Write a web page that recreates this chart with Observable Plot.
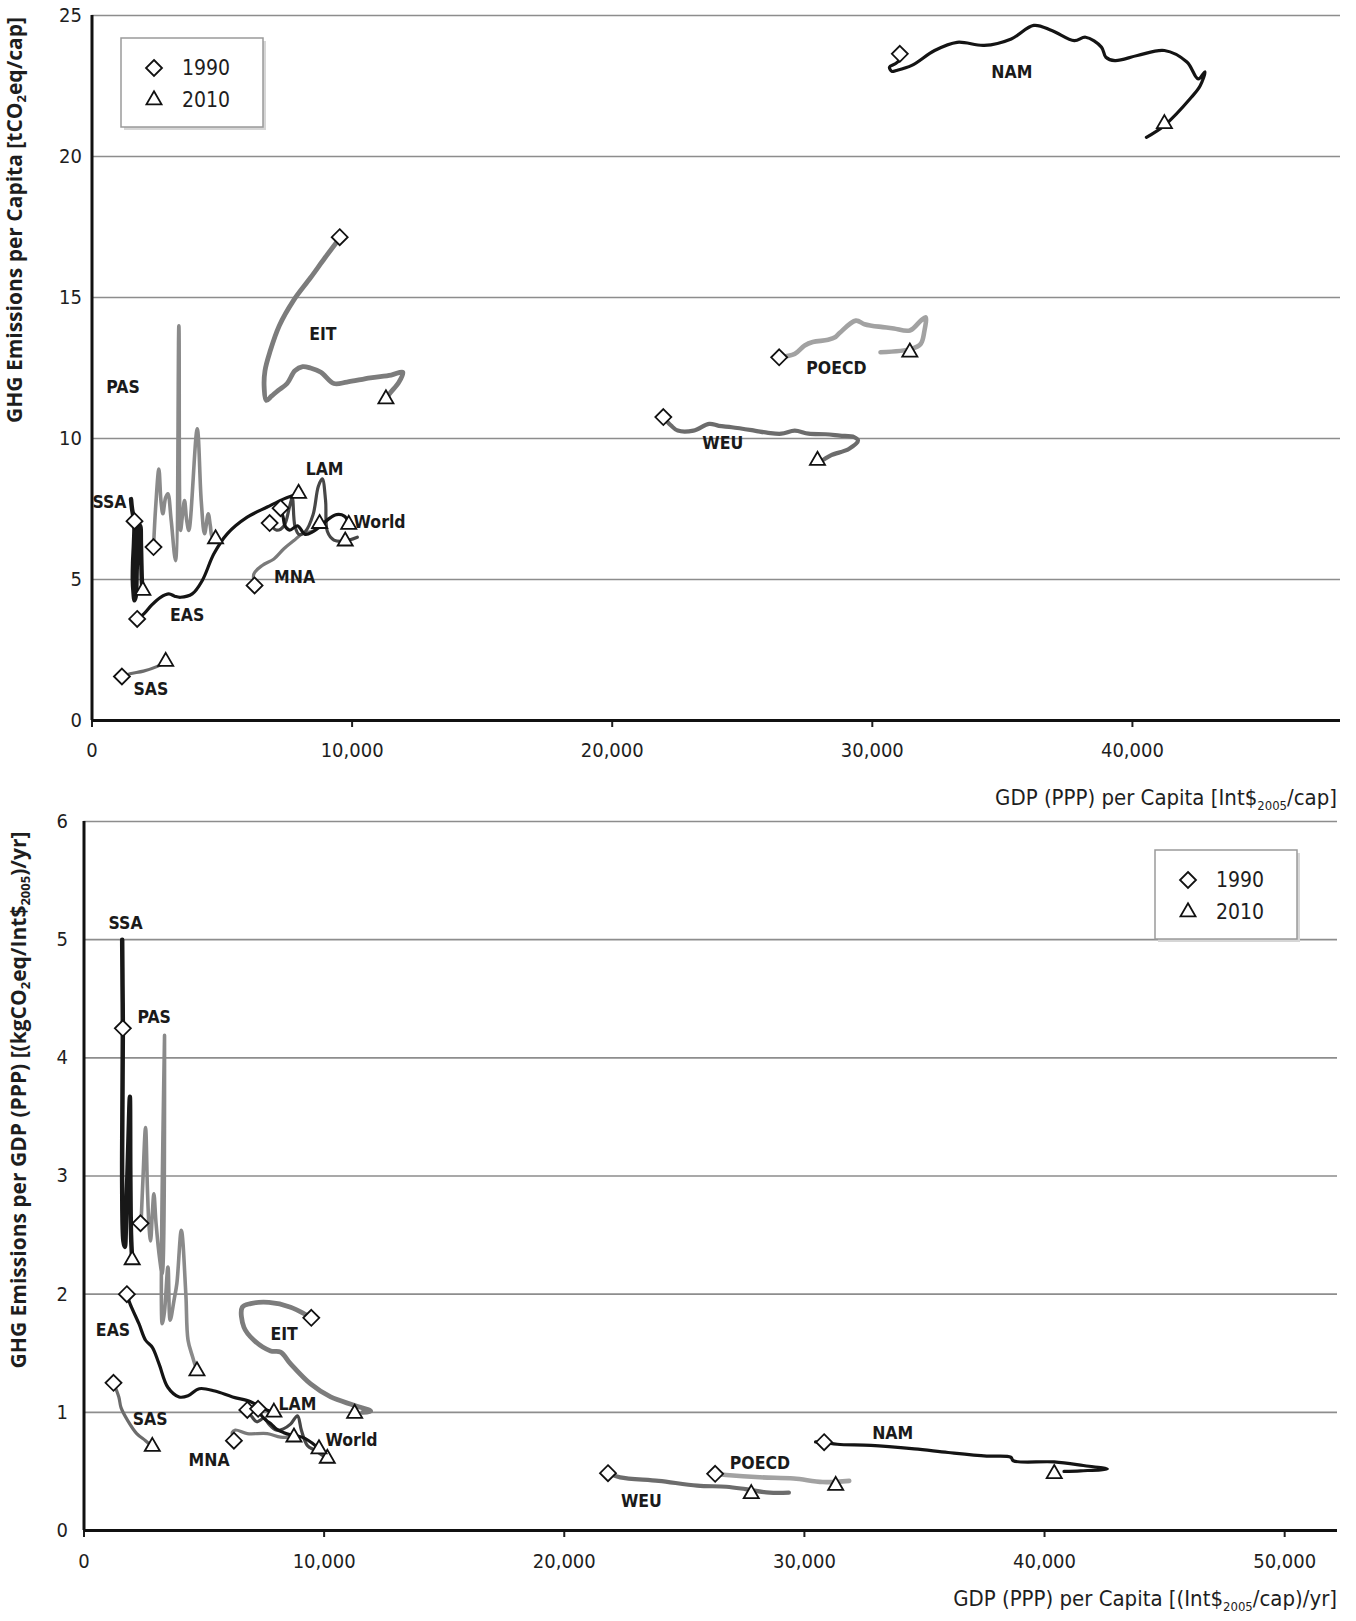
<!DOCTYPE html>
<html><head><meta charset="utf-8">
<script src="https://cdn.jsdelivr.net/npm/d3@7"></script>
<script src="https://cdn.jsdelivr.net/npm/@observablehq/plot@0.6"></script>
<style>
html,body{margin:0;padding:0;background:#fff;}
#chart{width:1356px;}
#chart svg{display:block;}
</style></head><body><div id="chart"></div>
<script>
// ---------- DATA: top panel, GHG emissions per capita [tCO2eq/cap] vs GDP per capita ----------
const NAM_pc = [[31150,23.5],[30900,23.3],[30660,23.17],[30750,23.02],[30923,23.05],[31519,23.23],[32396,23.76],[33262,24.05],[34300,23.94],[35342,24.17],[36208,24.65],[36900,24.47],[37765,24.11],[38200,24.23],[38808,23.88],[38980,23.52],[39327,23.4],[40192,23.58],[41230,23.76],[42096,23.35],[42530,22.75],[42788,23.0],[42600,22.5],[42267,22.1],[41230,21.1],[40538,20.68]];
const EIT_pc = [[9523,17.1],[8950,16.4],[8400,15.7],[7750,14.9],[7200,14.0],[6850,13.1],[6650,12.4],[6620,11.8],[6700,11.35],[6900,11.5],[7150,11.7],[7500,11.95],[7800,12.4],[8100,12.55],[8400,12.5],[8800,12.35],[9300,11.95],[9800,12.0],[10700,12.15],[11500,12.25],[11950,12.35],[11800,12.0],[11450,11.6],[11300,11.4]];
const POECD_pc = [[26419,12.88],[27019,13.0],[27400,13.3],[27712,13.42],[28300,13.5],[28585,13.6],[28750,13.75],[29365,14.18],[29700,14.05],[29969,14.0],[30400,13.95],[30827,13.9],[31442,13.83],[31865,14.18],[32050,14.3],[32000,13.8],[31865,13.36],[31519,13.18],[30315,13.06]];
const WEU_pc = [[21965,10.76],[22262,10.46],[22519,10.28],[23127,10.28],[23734,10.52],[24100,10.45],[24596,10.4],[25465,10.28],[26000,10.2],[26504,10.17],[27019,10.28],[27546,10.17],[28200,10.15],[28750,10.1],[29300,10.05],[29450,9.93],[29096,9.63],[28404,9.4],[27981,9.16]];
const SSA_pc = [[1500,7.85],[1540,7.5],[1600,7.2],[1630,7.05],[1615,6.3],[1580,5.6],[1570,5.0],[1600,4.5],[1630,4.26],[1680,4.4],[1720,5.4],[1760,6.3],[1800,6.85],[1850,6.9],[1880,6.3],[1900,5.5],[1920,4.9],[1950,4.6]];
const PAS_pc = [[2378,6.4],[2450,7.6],[2570,8.92],[2650,7.8],[2725,7.33],[2830,7.9],[2917,8.04],[3045,7.09],[3212,5.67],[3340,14.0],[3404,6.74],[3480,7.3],[3558,7.8],[3640,7.1],[3724,6.74],[4045,10.34],[4199,7.8],[4327,6.62],[4468,7.33],[4550,6.9],[4622,6.5],[4750,6.44]];
const EAS_pc = [[1737,3.6],[1994,3.78],[2300,4.1],[2635,4.37],[2955,4.49],[3200,4.4],[3404,4.37],[3853,4.49],[4237,4.96],[4686,5.91],[5199,6.62],[5968,7.21],[6737,7.57],[7378,7.86],[7955,8.06]];
const LAM_pc = [[6830,7.0],[7100,6.75],[7378,6.9],[7600,7.6],[7700,7.9],[7800,6.9],[7955,6.6],[8200,6.7],[8500,7.3],[8700,8.3],[8853,8.57],[8980,7.8],[9050,6.7],[9300,6.4],[9686,6.36],[10200,6.5]];
const World_pc = [[7250,7.53],[7350,7.2],[7420,6.9],[7600,6.75],[7900,6.9],[8200,6.6],[8500,6.7],[8800,6.9],[9100,7.15],[9400,7.3],[9700,7.25],[9878,7.0]];
const MNA_pc = [[6250,4.79],[6224,5.2],[6545,5.5],[6994,5.73],[7378,6.09],[7763,6.38],[8083,6.62],[8532,6.74],[8724,7.0]];
const SAS_pc = [[1150,1.56],[1461,1.66],[1977,1.75],[2490,1.91],[2866,2.09]];

// 1990 (diamond) and 2010 (triangle) markers, top panel
const regions1990_pc = ["NAM","EIT","POECD","WEU","SSA","PAS","EAS","LAM","World","MNA","SAS"];
const gdp1990_pc = [31058,9523,26419,21965,1634,2365,1737,6830,7250,6250,1150];
const val1990_pc = [23.64,17.14,12.88,10.76,7.07,6.15,3.6,7.0,7.53,4.79,1.56];
const gdp2010_pc = [41230,11300,31442,27892,1955,4750,7942,9735,9870,8750,2834];
const val2010_pc = [21.16,11.4,13.06,9.22,4.61,6.44,8.05,6.36,6.95,6.98,2.09];

// region label anchor points, top panel
const labelText_pc = ["NAM","EIT","POECD","WEU","SSA","PAS","EAS","LAM","World","MNA","SAS"];
const labelGdp_pc = [35365,8877,28619,24250,673,1192,3660,8942,11058,7788,2266];
const labelVal_pc = [22.99,13.69,12.5,9.83,7.73,11.8,3.72,8.9,7.03,5.08,1.12];

// ---------- DATA: bottom panel, GHG emissions per GDP [(kgCO2eq/Int$2005)/yr] ----------
const NAM_pg = [[30463,0.75],[30821,0.747],[31367,0.73],[32771,0.72],[34579,0.69],[35988,0.66],[37592,0.63],[38596,0.62],[38700,0.59],[40404,0.58],[41613,0.55],[42617,0.52],[41500,0.505],[40810,0.50]];
const EIT_pg = [[9465,1.80],[9299,1.82],[8604,1.89],[7701,1.93],[6937,1.92],[6590,1.89],[6660,1.72],[7076,1.61],[7771,1.52],[8188,1.51],[8604,1.41],[9437,1.24],[10271,1.13],[11243,1.06],[11938,1.01],[11600,1.0]];
const POECD_pg = [[26283,0.48],[26746,0.47],[28146,0.45],[29558,0.44],[30763,0.41],[31867,0.42]];
const WEU_pg = [[21821,0.485],[22325,0.45],[23933,0.42],[25537,0.38],[26746,0.37],[27546,0.35],[28554,0.32],[29354,0.32]];
const SSA_pg = [[1590,5.0],[1605,4.6],[1618,4.25],[1600,3.6],[1590,2.9],[1640,2.45],[1700,2.4],[1760,2.7],[1850,3.3],[1910,3.67],[1930,3.0],[1960,2.5],[2007,2.29]];
const PAS_pg = [[2380,2.62],[2450,2.95],[2563,3.41],[2640,2.9],[2700,2.6],[2771,2.45],[2850,2.7],[2910,2.85],[3000,2.6],[3150,2.3],[3257,2.17],[3354,4.19],[3257,1.75],[3350,1.85],[3496,2.23],[3588,1.78],[3750,1.95],[3867,2.09],[4054,2.54],[4241,2.0],[4333,1.61],[4521,1.47],[4704,1.35]];
const EAS_pg = [[1785,2.0],[1915,1.92],[2287,1.75],[2564,1.61],[2845,1.55],[3125,1.41],[3496,1.21],[3962,1.13],[4333,1.14],[4800,1.2],[5450,1.18],[6187,1.13],[6937,1.09],[7300,1.05],[7600,1.02],[7908,1.0]];
const LAM_pg = [[6800,1.02],[7000,0.96],[7200,0.92],[7500,0.95],[7700,0.9],[8000,0.85],[8300,0.86],[8600,0.9],[8890,0.97],[9050,0.85],[9300,0.72],[9600,0.68],[9900,0.64],[10132,0.61]];
const World_pg = [[7250,1.03],[7400,0.97],[7600,0.93],[7800,0.9],[8000,0.86],[8300,0.83],[8600,0.81],[8900,0.8],[9200,0.78],[9500,0.74],[9785,0.69]];
const MNA_pg = [[6243,0.76],[6174,0.83],[6300,0.85],[6800,0.82],[7633,0.82],[8188,0.79],[8743,0.79]];
const SAS_pg = [[1229,1.25],[1450,1.13],[1542,1.04],[1821,0.93],[2196,0.82],[2563,0.76],[2845,0.71]];

const regions1990_pg = ["NAM","EIT","POECD","WEU","SSA","PAS","EAS","LAM","World","MNA","SAS"];
const gdp1990_pg = [30821,9465,26283,21821,1618,2354,1785,6800,7250,6243,1229];
const val1990_pg = [0.747,1.80,0.48,0.485,4.25,2.6,2.0,1.02,1.03,0.76,1.25];
const gdp2010_pg = [40404,11271,31304,27787,2007,4704,7908,10132,9785,8743,2845];
const val2010_pg = [0.48,0.99,0.38,0.31,2.29,1.35,1.0,0.61,0.69,0.79,0.71];

const labelText_pg = ["NAM","EIT","POECD","WEU","SSA","PAS","EAS","LAM","World","MNA","SAS"];
const labelGdp_pg = [33675,8333,28150,23212,1729,2925,1208,8890,11142,5208,2754];
const labelVal_pg = [0.82,1.66,0.57,0.25,5.14,4.34,1.69,1.07,0.76,0.59,0.94];

const xTicks_pc = [0,10000,20000,30000,40000];
const yTicks_pc = [0,5,10,15,20,25];
const xTicks_pg = [0,10000,20000,30000,40000,50000];
const yTicks_pg = [0,1,2,3,4,5,6];

// ---------- STYLE ----------
const regionOrder = ["PAS","POECD","EIT","WEU","MNA","SAS","LAM","SSA","EAS","World","NAM"];
const regionColor = {NAM:"#141414",EIT:"#7c7c7c",POECD:"#a2a2a2",WEU:"#6c6c6c",SSA:"#181818",PAS:"#8a8a8a",EAS:"#141414",LAM:"#474747",World:"#141414",MNA:"#7a7a7a",SAS:"#6c6c6c"};
const regionWidth = {NAM:3.2,EIT:4.8,POECD:4.6,WEU:4.2,SSA:4.5,PAS:3.6,EAS:3.2,LAM:3.2,World:3.2,MNA:3.2,SAS:3.2};
const TICKFONT = "'Liberation Sans Narrow','DejaVu Sans Condensed',sans-serif";
const LABELFONT = "'Liberation Sans Narrow','DejaVu Sans Condensed',sans-serif";
const TITLEFONT = "'Open Sans','DejaVu Sans',sans-serif";
const MARKER_R = 7.2;

function zipMarkers(names, gx, gy) { return names.map((r, i) => ({region: r, gdp: gx[i], val: gy[i]})); }

function makePanel(cfg) {
  const lines = regionOrder.map(r => Plot.line(cfg.series[r], {
    x: d => d[0], y: d => d[1], stroke: regionColor[r], strokeWidth: regionWidth[r],
    curve: "catmull-rom", strokeLinejoin: "round", strokeLinecap: "round"
  }));
  const d90 = zipMarkers(cfg.r90, cfg.g90, cfg.v90);
  const d10 = zipMarkers(cfg.r90, cfg.g10, cfg.v10);
  const labs = cfg.lt.map((t, i) => ({t, gdp: cfg.lg[i], val: cfg.lv[i]}));
  return Plot.plot({
    width: 1356, height: cfg.height,
    marginTop: cfg.mt, marginBottom: cfg.mb, marginLeft: cfg.ml, marginRight: cfg.mr,
    x: {domain: [0, cfg.xMax], label: null},
    y: {domain: [0, cfg.yMax], label: null},
    style: {fontFamily: TICKFONT, fontSize: "20px", color: "#1e1e1e", background: "white", overflow: "visible"},
    marks: [
      Plot.ruleY(cfg.yTicks.filter(d => d > 0), {stroke: "#8d8d8d", strokeWidth: 1.6}),
      ...lines,
      Plot.dot(d90, {x: "gdp", y: "val", symbol: "diamond2", r: MARKER_R, fill: "white", stroke: "#111", strokeWidth: 1.8}),
      Plot.dot(d10, {x: "gdp", y: "val", symbol: "triangle2", r: MARKER_R, fill: "white", stroke: "#111", strokeWidth: 1.8}),
      Plot.text(labs, {x: "gdp", y: "val", text: "t", fontSize: 17.5, fontWeight: "bold", fontFamily: LABELFONT, fill: "#1a1a1a"}),
      Plot.axisX({ticks: cfg.xTicks, tickFormat: d3.format(","), tickSize: 7, tickPadding: cfg.xpad, strokeWidth: 2, fontSize: 20}),
      Plot.axisY({ticks: cfg.yTicks, tickFormat: d3.format("d"), tickSize: 0, tickPadding: cfg.ypad, fontSize: 20}),
      Plot.ruleX([0], {stroke: "#111", strokeWidth: 3}),
      Plot.ruleY([0], {stroke: "#111", strokeWidth: 3})
    ]
  });
}

function addText(svg, parts, attrs) {
  const t = svg.append("text").attr("fill", "#1e1e1e");
  Object.entries(attrs).forEach(([k, v]) => t.attr(k, v));
  parts.forEach(p => {
    const s = t.append("tspan").text(p.s);
    if (p.sub) s.attr("dy", p.sub).attr("font-size", p.size);
    if (p.dy) s.attr("dy", p.dy);
  });
  return t;
}

function addLegend(svg, x, y) {
  const g = svg.append("g").attr("transform", `translate(${x},${y})`);
  g.append("rect").attr("x", 3).attr("y", 3).attr("width", 142).attr("height", 89).attr("fill", "#d6d6d6");
  g.append("rect").attr("width", 142).attr("height", 89).attr("fill", "white").attr("stroke", "#9a9a9a").attr("stroke-width", 1.5);
  const sz = Math.PI * MARKER_R * MARKER_R;
  g.append("path").attr("d", d3.symbol(d3.symbolDiamond2, sz)()).attr("transform", "translate(33,30)")
    .attr("fill", "white").attr("stroke", "#111").attr("stroke-width", 1.8);
  g.append("path").attr("d", d3.symbol(d3.symbolTriangle2, sz)()).attr("transform", "translate(33,62)")
    .attr("fill", "white").attr("stroke", "#111").attr("stroke-width", 1.8);
  g.append("text").attr("x", 61).attr("y", 37).attr("text-anchor", "start").attr("font-family", TICKFONT).attr("font-size", 21).attr("fill", "#1e1e1e").text("1990");
  g.append("text").attr("x", 61).attr("y", 69).attr("text-anchor", "start").attr("font-family", TICKFONT).attr("font-size", 21).attr("fill", "#1e1e1e").text("2010");
}

const topPlot = makePanel({
  series: {NAM: NAM_pc, EIT: EIT_pc, POECD: POECD_pc, WEU: WEU_pc, SSA: SSA_pc, PAS: PAS_pc, EAS: EAS_pc, LAM: LAM_pc, World: World_pc, MNA: MNA_pc, SAS: SAS_pc},
  r90: regions1990_pc, g90: gdp1990_pc, v90: val1990_pc, g10: gdp2010_pc, v10: val2010_pc,
  lt: labelText_pc, lg: labelGdp_pc, lv: labelVal_pc,
  xMax: 48000, yMax: 25, xTicks: xTicks_pc, yTicks: yTicks_pc,
  height: 812, mt: 15, mb: 92, ml: 91.5, mr: 16, xpad: 15, ypad: 10
});
const bottomPlot = makePanel({
  series: {NAM: NAM_pg, EIT: EIT_pg, POECD: POECD_pg, WEU: WEU_pg, SSA: SSA_pg, PAS: PAS_pg, EAS: EAS_pg, LAM: LAM_pg, World: World_pg, MNA: MNA_pg, SAS: SAS_pg},
  r90: regions1990_pg, g90: gdp1990_pg, v90: val1990_pg, g10: gdp2010_pg, v10: val2010_pg,
  lt: labelText_pg, lg: labelGdp_pg, lv: labelVal_pg,
  xMax: 52200, yMax: 6, xTicks: xTicks_pg, yTicks: yTicks_pg,
  height: 809, mt: 9, mb: 91, ml: 83.5, mr: 19, xpad: 16, ypad: 16
});

document.getElementById("chart").append(topPlot, bottomPlot);

// axis titles and legends
const st = d3.select(topPlot), sb = d3.select(bottomPlot);
addText(st, [{s: "GDP (PPP) per Capita [Int$"}, {s: "2005", sub: 5, size: 13}, {s: "/cap]", dy: -5}],
  {x: 1337, y: 805, "text-anchor": "end", "font-family": TICKFONT, "font-size": 22});
addText(sb, [{s: "GDP (PPP) per Capita [(Int$"}, {s: "2005", sub: 5, size: 13}, {s: "/cap)/yr]", dy: -5}],
  {x: 1337, y: 794, "text-anchor": "end", "font-family": TICKFONT, "font-size": 22});
addText(st, [{s: "GHG Emissions per Capita [tCO"}, {s: "2", sub: 4, size: 13}, {s: "eq/cap]", dy: -4}],
  {transform: "translate(22,220) rotate(-90)", "text-anchor": "middle", "font-family": TITLEFONT, "font-size": 21, "font-weight": 700});
addText(sb, [{s: "GHG Emissions per GDP (PPP) [(kgCO"}, {s: "2", sub: 4, size: 13}, {s: "eq/Int$", dy: -4}, {s: "2005", sub: 4, size: 13}, {s: ")/yr]", dy: -4}],
  {transform: "translate(26,288) rotate(-90)", "text-anchor": "middle", "font-family": TITLEFONT, "font-size": 21, "font-weight": 700});
addLegend(st, 121, 38);
addLegend(sb, 1155, 38);
</script></body></html>
